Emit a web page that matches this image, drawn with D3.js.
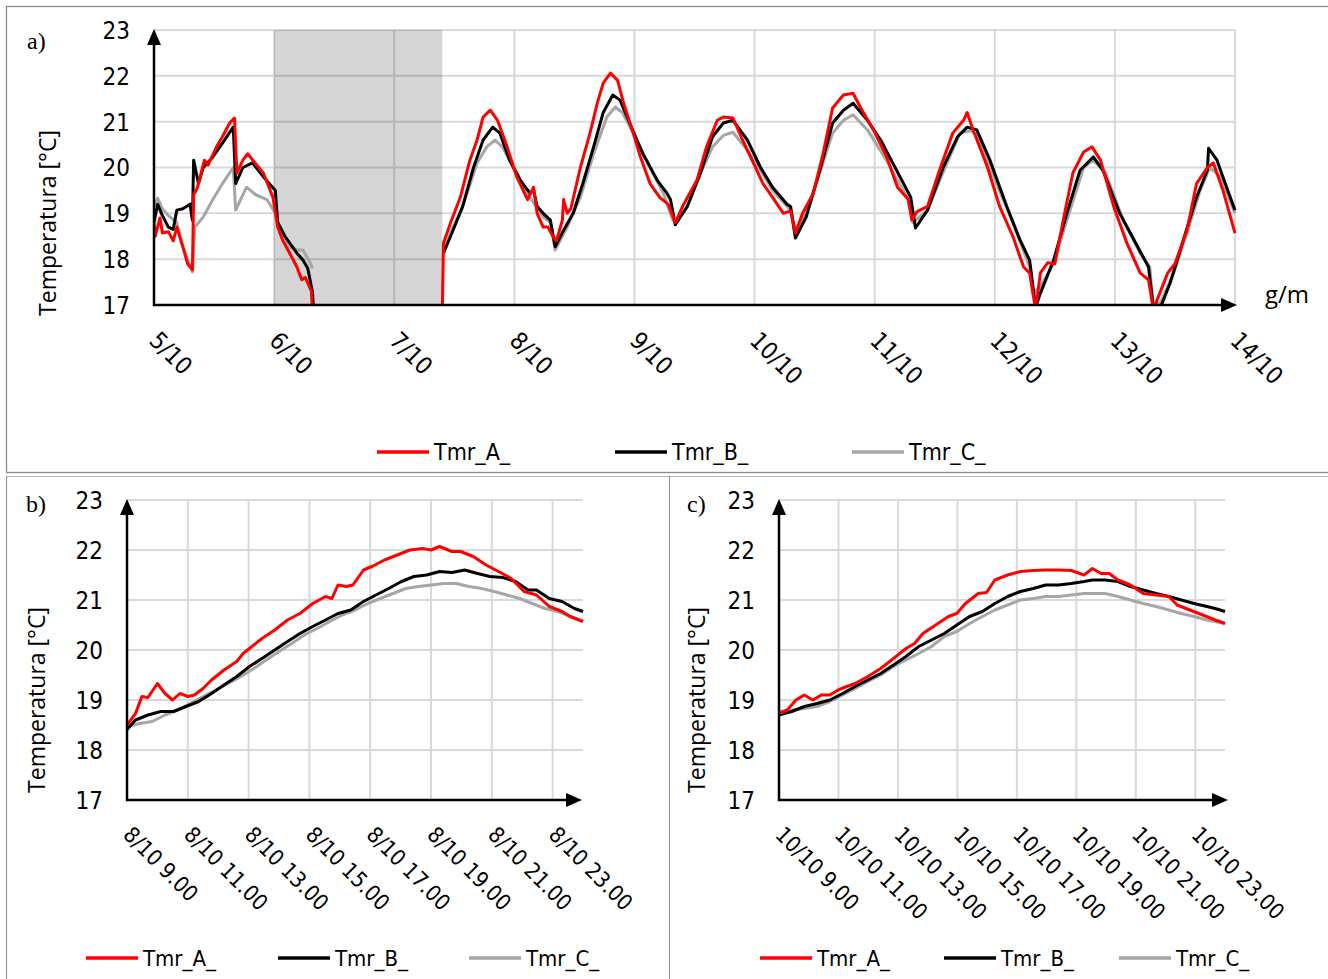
<!DOCTYPE html>
<html>
<head>
<meta charset="utf-8">
<script src="https://cdn.jsdelivr.net/npm/d3@7"></script>
<style>
body { margin: 0; background: #fff; }
svg text { font-family: "Liberation Sans Narrow", "DejaVu Sans Condensed", "Open Sans", sans-serif; fill: #000; }
</style>
</head>
<body>
<script>
// ---- data ----
// panel a: days of October (fractional), temperature °C; null = no data
const aDays = [5, 6, 7, 8, 9, 10, 11, 12, 13, 14];
const aShade = [6.0, 7.4];
const aRed = [
  [5.00,18.8],[5.01,18.5],[5.05,18.9],[5.07,18.57],[5.12,18.6],[5.16,18.4],[5.19,18.7],[5.24,18.27],[5.28,17.9],[5.32,17.77],
  [5.33,19.4],[5.36,19.55],[5.42,20.16],[5.45,20.05],[5.52,20.45],[5.57,20.67],[5.63,20.97],[5.67,21.08],[5.69,19.88],[5.74,20.16],
  [5.78,20.3],[5.81,20.2],[5.91,19.88],[5.99,19.35],[6.03,18.7],[6.07,18.42],[6.13,18.13],[6.19,17.83],[6.23,17.55],[6.26,17.6],
  [6.31,17.3],[6.32,16.8],[6.9,null],
  [7.40,16.8],[7.41,18.35],[7.47,18.8],[7.55,19.35],[7.63,20.16],[7.69,20.6],[7.74,21.1],[7.80,21.25],[7.86,21.03],[7.94,20.45],
  [8.02,19.8],[8.11,19.3],[8.16,19.57],[8.19,19.0],[8.24,18.7],[8.28,18.7],[8.32,18.5],[8.35,18.4],[8.40,18.85],[8.41,19.3],
  [8.44,19.0],[8.47,19.1],[8.55,20.0],[8.63,20.75],[8.69,21.4],[8.74,21.84],[8.80,22.06],[8.86,21.9],[8.91,21.4],[8.99,20.75],
  [9.05,20.23],[9.13,19.65],[9.21,19.35],[9.28,19.2],[9.34,18.8],[9.41,19.2],[9.52,19.72],[9.60,20.45],[9.69,21.03],[9.74,21.1],
  [9.82,21.08],[9.90,20.6],[9.99,20.1],[10.07,19.65],[10.15,19.35],[10.24,19.0],[10.30,19.05],[10.34,18.57],[10.40,19.0],[10.49,19.44],
  [10.57,20.3],[10.65,21.3],[10.74,21.58],[10.82,21.62],[10.88,21.32],[10.99,20.82],[11.10,20.23],[11.19,19.57],[11.28,19.3],[11.31,18.85],
  [11.35,19.03],[11.44,19.15],[11.54,19.94],[11.65,20.75],[11.74,21.03],[11.77,21.2],[11.82,20.82],[11.94,20.0],[12.04,19.15],[12.15,18.5],
  [12.24,17.83],[12.29,17.7],[12.34,16.9],[12.38,17.7],[12.44,17.92],[12.50,17.9],[12.57,18.85],[12.65,19.88],[12.74,20.34],[12.81,20.45],
  [12.88,20.16],[12.99,19.15],[13.10,18.35],[13.21,17.7],[13.28,17.55],[13.32,16.9],[13.35,17.1],[13.44,17.7],[13.50,17.9],[13.60,18.63],
  [13.68,19.65],[13.77,20.0],[13.82,20.1],[13.90,19.5],[14.00,18.57]
];
const aBlack = [
  [5.00,18.8],[5.03,19.2],[5.07,18.95],[5.12,18.7],[5.16,18.65],[5.19,19.07],[5.24,19.1],[5.30,19.2],[5.32,18.85],[5.33,20.16],
  [5.37,19.65],[5.41,20.0],[5.49,20.23],[5.57,20.53],[5.66,20.88],[5.68,19.65],[5.74,20.0],[5.82,20.1],[5.91,19.8],[6.01,19.5],
  [6.03,18.8],[6.09,18.5],[6.19,18.13],[6.24,17.98],[6.28,17.8],[6.32,17.27],[6.33,16.8],[6.9,null],
  [7.41,18.13],[7.49,18.63],[7.57,19.15],[7.66,20.0],[7.74,20.6],[7.82,20.88],[7.88,20.75],[7.96,20.16],[8.05,19.72],[8.13,19.44],
  [8.16,19.5],[8.19,19.15],[8.24,19.0],[8.30,18.85],[8.34,18.27],[8.41,18.63],[8.49,19.0],[8.57,19.65],[8.66,20.45],[8.74,21.2],
  [8.82,21.58],[8.88,21.47],[8.96,20.97],[9.07,20.3],[9.19,19.72],[9.27,19.44],[9.30,19.3],[9.34,18.75],[9.44,19.15],[9.55,19.88],
  [9.65,20.67],[9.74,20.97],[9.82,21.03],[9.94,20.6],[10.05,20.0],[10.15,19.57],[10.27,19.2],[10.30,19.15],[10.34,18.46],[10.43,18.92],
  [10.55,20.0],[10.65,20.97],[10.74,21.25],[10.82,21.4],[10.94,21.03],[11.05,20.6],[11.15,20.1],[11.30,19.35],[11.34,18.68],[11.44,19.07],
  [11.57,20.0],[11.69,20.67],[11.77,20.88],[11.85,20.82],[11.96,20.16],[12.10,19.15],[12.21,18.42],[12.29,17.98],[12.34,16.95],[12.38,17.26],
  [12.49,17.98],[12.60,19.0],[12.71,19.94],[12.82,20.23],[12.90,19.94],[13.04,19.0],[13.19,18.27],[13.28,17.83],[13.32,16.95],[13.38,16.95],
  [13.46,17.48],[13.57,18.42],[13.68,19.35],[13.77,19.94],[13.78,20.42],[13.85,20.16],[13.93,19.57],[14.00,19.07]
];
const aGray = [
  [5.00,19.15],[5.03,19.33],[5.07,19.1],[5.12,18.95],[5.19,18.8],[5.24,18.27],[5.30,17.87],[5.32,17.72],[5.34,18.7],[5.41,18.92],
  [5.49,19.3],[5.57,19.65],[5.66,20.0],[5.68,19.07],[5.77,19.57],[5.85,19.4],[5.94,19.3],[6.01,19.0],[6.05,18.63],[6.13,18.27],
  [6.19,18.2],[6.24,18.2],[6.30,17.92],[6.32,17.8],[6.9,null],
  [7.41,18.2],[7.49,18.7],[7.57,19.15],[7.69,20.1],[7.77,20.45],[7.84,20.6],[7.90,20.45],[8.02,19.88],[8.13,19.35],[8.24,18.92],
  [8.30,18.8],[8.34,18.2],[8.44,18.7],[8.55,19.35],[8.66,20.3],[8.77,21.1],[8.84,21.32],[8.90,21.2],[9.02,20.6],[9.13,20.0],
  [9.24,19.44],[9.32,18.85],[9.34,18.8],[9.44,19.15],[9.55,19.88],[9.65,20.45],[9.74,20.7],[9.82,20.77],[9.94,20.38],[10.05,19.94],
  [10.15,19.5],[10.30,19.07],[10.34,18.63],[10.43,19.0],[10.55,19.94],[10.65,20.75],[10.74,21.03],[10.82,21.15],[10.94,20.82],[11.10,20.15],
  [11.27,19.35],[11.32,18.8],[11.44,19.07],[11.57,19.9],[11.71,20.75],[11.80,20.8],[11.85,20.7],[11.99,19.8],[12.15,18.8],[12.29,17.83],
  [12.32,17.26],[12.38,17.4],[12.49,17.9],[12.60,18.85],[12.74,20.0],[12.82,20.16],[12.92,19.9],[13.07,18.85],[13.21,18.13],[13.29,17.83],
  [13.32,17.0],[13.38,17.05],[13.49,17.7],[13.60,18.57],[13.71,19.5],[13.79,20.0],[13.88,19.8],[14.00,19.0]
];

// panel b: 8/10, hour of day
const bHours = [9, 11, 13, 15, 17, 19, 21, 23];
const bRed = [
  [9.0,18.5],[9.28,18.73],[9.49,19.07],[9.69,19.05],[10.0,19.33],[10.25,19.13],[10.5,19.0],[10.74,19.13],[11.01,19.07],[11.22,19.1],
  [11.5,19.23],[11.78,19.4],[12.19,19.6],[12.61,19.77],[12.82,19.93],[13.03,20.03],[13.44,20.23],[13.86,20.4],[14.28,20.6],[14.69,20.73],
  [15.11,20.93],[15.53,21.07],[15.74,21.03],[15.94,21.3],[16.22,21.27],[16.43,21.3],[16.78,21.6],[17.06,21.67],[17.47,21.8],[17.89,21.9],
  [18.31,22.0],[18.72,22.03],[19.0,22.0],[19.28,22.07],[19.69,21.97],[19.97,21.97],[20.39,21.87],[20.81,21.7],[21.22,21.57],[21.64,21.43],
  [22.06,21.17],[22.47,21.1],[22.89,20.87],[23.31,20.77],[23.58,20.67],[24.0,20.57]
];
const bBlack = [
  [9.0,18.41],[9.28,18.6],[9.69,18.7],[10.11,18.77],[10.53,18.77],[10.94,18.87],[11.36,18.97],[11.78,19.13],[12.19,19.3],[12.61,19.47],
  [13.03,19.67],[13.44,19.83],[13.86,20.0],[14.28,20.17],[14.69,20.33],[15.11,20.47],[15.53,20.6],[15.94,20.73],[16.36,20.8],[16.78,20.97],
  [17.19,21.1],[17.61,21.23],[18.03,21.37],[18.44,21.47],[18.86,21.5],[19.28,21.57],[19.69,21.55],[20.11,21.6],[20.53,21.53],[20.94,21.47],
  [21.36,21.45],[21.78,21.37],[22.19,21.2],[22.47,21.2],[22.89,21.03],[23.31,20.97],[23.72,20.83],[24.0,20.77]
];
const bGray = [
  [9.0,18.47],[9.42,18.53],[9.83,18.57],[10.25,18.7],[10.67,18.8],[11.08,18.93],[11.5,19.07],[11.92,19.2],[12.33,19.33],[12.75,19.47],
  [13.17,19.63],[13.58,19.8],[14.0,19.97],[14.42,20.13],[14.83,20.3],[15.25,20.43],[15.67,20.57],[16.08,20.7],[16.5,20.8],[16.92,20.93],
  [17.33,21.03],[17.75,21.13],[18.17,21.23],[18.58,21.27],[19.0,21.3],[19.42,21.33],[19.83,21.33],[20.25,21.27],[20.67,21.23],[21.08,21.17],
  [21.5,21.1],[21.92,21.03],[22.33,20.93],[22.75,20.83],[23.17,20.77],[23.58,20.67],[24.0,20.57]
];

// panel c: 10/10, hour of day
const cHours = [9, 11, 13, 15, 17, 19, 21, 23];
const cRed = [
  [9.0,18.73],[9.28,18.8],[9.57,19.0],[9.85,19.1],[10.14,19.0],[10.42,19.1],[10.71,19.1],[10.99,19.2],[11.28,19.27],[11.56,19.33],
  [11.99,19.47],[12.42,19.63],[12.85,19.83],[13.27,20.03],[13.56,20.13],[13.84,20.33],[14.27,20.5],[14.7,20.67],[14.98,20.73],[15.27,20.93],
  [15.7,21.13],[15.98,21.15],[16.26,21.4],[16.69,21.5],[17.12,21.57],[17.55,21.59],[17.97,21.6],[18.4,21.6],[18.83,21.59],[19.26,21.5],
  [19.54,21.63],[19.83,21.53],[20.11,21.53],[20.4,21.4],[20.82,21.3],[21.25,21.13],[21.68,21.1],[22.11,21.07],[22.39,20.9],[22.82,20.8],
  [23.25,20.7],[23.67,20.6],[24.0,20.53]
];
const cBlack = [
  [9.0,18.7],[9.43,18.77],[9.85,18.87],[10.28,18.93],[10.71,19.0],[11.14,19.13],[11.56,19.27],[11.99,19.4],[12.42,19.53],[12.85,19.7],
  [13.27,19.87],[13.7,20.07],[14.13,20.2],[14.56,20.33],[14.98,20.5],[15.41,20.67],[15.84,20.77],[16.26,20.93],[16.69,21.07],[17.12,21.17],
  [17.55,21.23],[17.97,21.3],[18.4,21.3],[18.83,21.33],[19.26,21.37],[19.54,21.4],[19.97,21.4],[20.4,21.37],[20.82,21.27],[21.25,21.2],
  [21.68,21.13],[22.11,21.07],[22.53,21.0],[22.96,20.93],[23.39,20.87],[23.67,20.83],[24.0,20.77]
];
const cGray = [
  [9.0,18.77],[9.43,18.8],[9.85,18.83],[10.28,18.87],[10.71,18.97],[11.14,19.1],[11.56,19.23],[11.99,19.37],[12.42,19.5],[12.85,19.67],
  [13.27,19.8],[13.7,19.93],[14.13,20.07],[14.56,20.27],[14.98,20.37],[15.41,20.53],[15.84,20.67],[16.26,20.8],[16.69,20.9],[17.12,21.0],
  [17.55,21.03],[17.97,21.07],[18.4,21.07],[18.83,21.1],[19.26,21.13],[19.54,21.13],[19.97,21.13],[20.4,21.07],[20.82,21.0],[21.25,20.93],
  [21.68,20.87],[22.11,20.8],[22.53,20.73],[22.96,20.67],[23.39,20.6],[24.0,20.53]
];

const tempTicks = [17, 18, 19, 20, 21, 22, 23];
const seriesNames = ["Tmr_A_", "Tmr_B_", "Tmr_C_"];
const seriesColors = ["#ff0000", "#000000", "#a6a6a6"];

// ---- drawing ----
const W = 1328, H = 979;
const svg = d3.select("body").append("svg")
  .attr("width", W)
  .attr("height", H);

// frames
svg.append("rect").attr("x", 6.5).attr("y", 6.5).attr("width", 1340).attr("height", 466)
  .attr("fill", "none").attr("stroke", "#8c8c8c").attr("stroke-width", 1.3);
svg.append("line").attr("x1", 6).attr("x2", W).attr("y1", 476.5).attr("y2", 476.5)
  .attr("stroke", "#b5b5b5");
svg.append("line").attr("x1", 6.5).attr("x2", 6.5).attr("y1", 476).attr("y2", H)
  .attr("stroke", "#8c8c8c");
svg.append("line").attr("x1", 669.5).attr("x2", 669.5).attr("y1", 476).attr("y2", H)
  .attr("stroke", "#8c8c8c");

function drawPanel(p) {
  const g = svg.append("g");
  const x = d3.scaleLinear().domain(p.xDomain).range([p.left, p.right]);
  const y = d3.scaleLinear().domain([17, 23]).range([p.bottom, p.top]);

  // grid
  const grid = g.append("g");
  grid.selectAll("line.h").data(tempTicks.slice(1)).enter().append("line")
    .attr("x1", p.left).attr("x2", p.gridRight)
    .attr("y1", d => y(d)).attr("y2", d => y(d))
    .attr("stroke", "#d9d9d9").attr("stroke-width", 2);
  grid.selectAll("line.v").data(p.xTicks.filter(d => x(d) > p.left + 1)).enter().append("line")
    .attr("x1", d => x(d)).attr("x2", d => x(d))
    .attr("y1", p.top).attr("y2", p.bottom)
    .attr("stroke", "#d9d9d9").attr("stroke-width", 2);

  if (p.shade) {
    g.append("rect")
      .attr("x", x(p.shade[0])).attr("width", x(p.shade[1]) - x(p.shade[0]))
      .attr("y", p.top).attr("height", p.bottom - p.top)
      .attr("fill", "#000").attr("fill-opacity", 0.165);
  }

  // series
  const clipId = "clip" + p.id;
  g.append("clipPath").attr("id", clipId).append("rect")
    .attr("x", p.left).attr("y", p.top).attr("width", p.right - p.left + 2).attr("height", p.bottom - p.top);
  const line = d3.line()
    .defined(d => d[1] != null)
    .x(d => x(d[0]))
    .y(d => y(d[1]));
  const lines = g.append("g").attr("clip-path", `url(#${clipId})`);
  [p.gray, p.black, p.red].forEach((s, i) => {
    lines.append("path").datum(s)
      .attr("d", line)
      .attr("fill", "none")
      .attr("stroke", [seriesColors[2], seriesColors[1], seriesColors[0]][i])
      .attr("stroke-width", 3)
      .attr("stroke-linejoin", "round");
  });

  // axes with arrows
  g.append("line").attr("x1", p.left).attr("x2", p.left)
    .attr("y1", p.bottom + 1).attr("y2", p.top + 10)
    .attr("stroke", "#000").attr("stroke-width", 2.5);
  g.append("path")
    .attr("d", `M${p.left},${p.top - 1} L${p.left - 7},${p.top + 15} L${p.left + 7},${p.top + 15} Z`)
    .attr("fill", "#000");
  g.append("line").attr("x1", p.left - 1).attr("x2", p.arrowX - 10)
    .attr("y1", p.bottom).attr("y2", p.bottom)
    .attr("stroke", "#000").attr("stroke-width", 2.5);
  g.append("path")
    .attr("d", `M${p.arrowX},${p.bottom} L${p.arrowX - 16},${p.bottom - 7} L${p.arrowX - 16},${p.bottom + 7} Z`)
    .attr("fill", "#000");

  // y tick labels
  const yAxis = d3.axisLeft(y).tickValues(tempTicks).tickFormat(d3.format("d")).tickSize(0).tickPadding(0);
  const ya = g.append("g").attr("transform", `translate(${p.yLabelX},0)`).call(yAxis);
  ya.select(".domain").remove();
  ya.selectAll("text").attr("font-size", p.tickSize).attr("dy", "0.35em")
    .style("font-family", "'Liberation Sans Narrow', 'DejaVu Sans Condensed', sans-serif");

  // x tick labels, rotated 45°
  g.selectAll("text.xl").data(p.xTicks).enter().append("text")
    .attr("class", "xl")
    .attr("transform", d => `translate(${x(d) + p.xLabelDx},${p.bottom + p.xLabelDy}) rotate(45)`)
    .attr("font-size", p.xTickSize)
    .text(p.xFormat);

  // axis title
  g.append("text")
    .attr("transform", `translate(${p.titleX},${p.titleY}) rotate(-90)`)
    .attr("text-anchor", "middle")
    .attr("font-size", p.titleSize)
    .style("font-family", "'Open Sans', sans-serif")
    .text("Temperatura [°C]");

  // panel letter
  g.append("text")
    .attr("x", p.letterX).attr("y", p.letterY)
    .attr("font-size", 24)
    .style("font-family", "'Liberation Serif', serif")
    .text(p.letter);

  // legend
  const lg = g.selectAll("g.leg").data(seriesNames).enter().append("g")
    .attr("transform", (d, i) => `translate(${p.legendX[i]},${p.legendY})`);
  lg.append("line").attr("x1", 0).attr("x2", 52).attr("y1", 0).attr("y2", 0)
    .attr("stroke", (d, i) => seriesColors[i]).attr("stroke-width", 3.5);
  lg.append("text").attr("x", 57).attr("y", 8)
    .attr("font-size", p.legendSize)
    .text(d => d);

  return { x, y, g };
}

// panel a
const pa = drawPanel({
  id: "a", letter: "a)", letterX: 27, letterY: 49,
  left: 154, right: 1235, gridRight: 1235, top: 30, bottom: 305, arrowX: 1237,
  xDomain: [5, 14], xTicks: aDays, xFormat: d => d + "/10",
  xLabelDx: -6, xLabelDy: 37, xTickSize: 24,
  yLabelX: 130, tickSize: 24,
  titleX: 56, titleY: 223, titleSize: 23,
  shade: aShade, red: aRed, black: aBlack, gray: aGray,
  legendX: [377, 615, 852], legendY: 452, legendSize: 23
});
pa.g.append("text")
  .attr("x", 1265).attr("y", 303)
  .attr("font-size", 24)
  .style("font-family", "'Open Sans', sans-serif")
  .text("g/m");

// panel b
drawPanel({
  id: "b", letter: "b)", letterX: 26, letterY: 512,
  left: 127, right: 583, gridRight: 583, top: 500, bottom: 800, arrowX: 582,
  xDomain: [9, 24], xTicks: bHours, xFormat: d => "8/10 " + d + ".00",
  xLabelDx: -5, xLabelDy: 36, xTickSize: 22,
  yLabelX: 103, tickSize: 24,
  titleX: 45, titleY: 700, titleSize: 23,
  red: bRed, black: bBlack, gray: bGray,
  legendX: [86, 278, 469], legendY: 958, legendSize: 22
});

// panel c
drawPanel({
  id: "c", letter: "c)", letterX: 687, letterY: 512,
  left: 779, right: 1225, gridRight: 1225, top: 500, bottom: 800, arrowX: 1228,
  xDomain: [9, 24], xTicks: cHours, xFormat: d => "10/10 " + d + ".00",
  xLabelDx: -5, xLabelDy: 36, xTickSize: 22,
  yLabelX: 755, tickSize: 24,
  titleX: 705, titleY: 700, titleSize: 23,
  red: cRed, black: cBlack, gray: cGray,
  legendX: [760, 944, 1119], legendY: 958, legendSize: 22
});
</script>
</body>
</html>
